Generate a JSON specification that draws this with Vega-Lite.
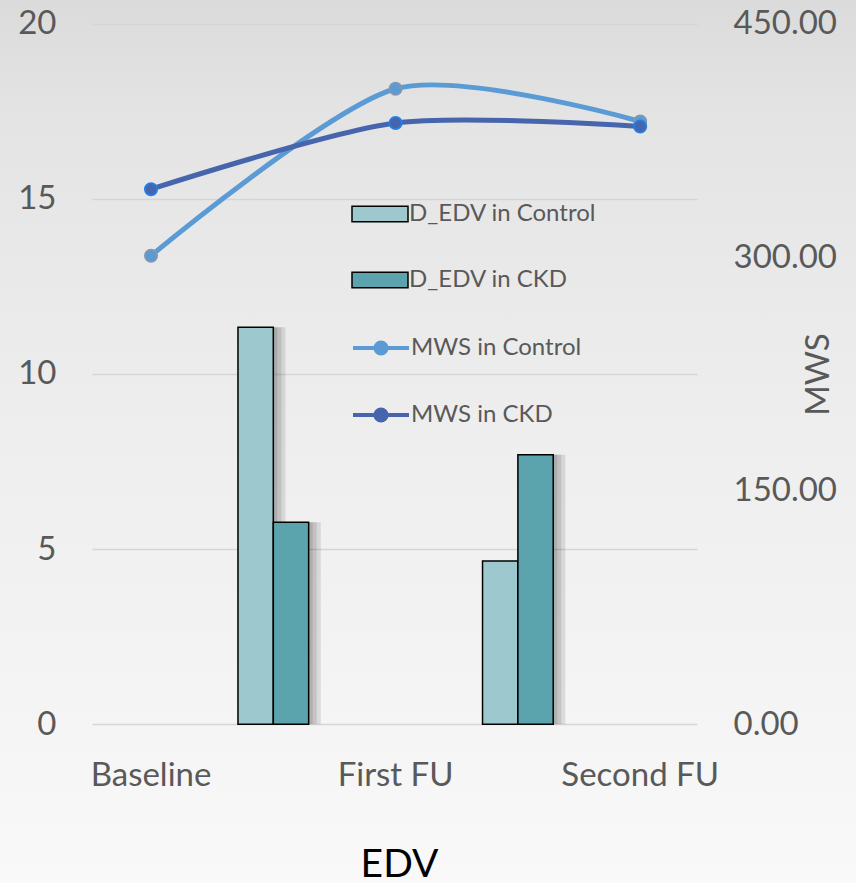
{
  "$schema": "https://vega.github.io/schema/vega-lite/v6.json",
  "autosize": "none",
  "width": 856,
  "height": 883,
  "padding": 0,
  "background": "#F0F0F0",
  "datasets": {
    "bars": [
      {"period": "Baseline–First FU", "series": "D_EDV in Control", "dedv": 11.33},
      {"period": "Baseline–First FU", "series": "D_EDV in CKD", "dedv": 5.77},
      {"period": "First FU–Second FU", "series": "D_EDV in Control", "dedv": 4.66},
      {"period": "First FU–Second FU", "series": "D_EDV in CKD", "dedv": 7.69}
    ],
    "mws": [
      {"period": "Baseline", "series": "MWS in Control", "mws": 301},
      {"period": "First FU", "series": "MWS in Control", "mws": 408.2},
      {"period": "Second FU", "series": "MWS in Control", "mws": 387.2},
      {"period": "Baseline", "series": "MWS in CKD", "mws": 343.7},
      {"period": "First FU", "series": "MWS in CKD", "mws": 386.2},
      {"period": "Second FU", "series": "MWS in CKD", "mws": 384}
    ]
  },
  "config": {
    "font": "Lato",
    "view": {
      "stroke": null,
      "fill": {
        "gradient": "linear", "x1": 0, "y1": 0, "x2": 0, "y2": 1,
        "stops": [
          {"offset": 0, "color": "#DBDBDB"},
          {"offset": 0.136, "color": "#E4E4E4"},
          {"offset": 0.34, "color": "#EAEAEA"},
          {"offset": 0.49, "color": "#EEEEEE"},
          {"offset": 0.79, "color": "#F4F4F4"},
          {"offset": 1, "color": "#F9F9F9"}
        ]
      }
    },
    "axis": {
      "labelFont": "Lato",
      "labelFontSize": 33,
      "labelColor": "#595959",
      "titleFont": "Lato",
      "titleFontWeight": "normal",
      "ticks": false,
      "domain": false,
      "grid": false
    },
    "legend": {
      "labelFont": "Lato",
      "labelFontSize": 24,
      "labelColor": "#595959",
      "labelOffset": 0,
      "padding": 0,
      "symbolSize": 3136,
      "labelLimit": 400
    }
  },
  "resolve": {"scale": {"y": "independent"}},
  "layer": [
    {
      "data": {"name": "bars"},
      "encoding": {
        "x": {
          "field": "period", "type": "nominal",
          "scale": {"domain": ["Baseline", "Baseline–First FU", "First FU", "First FU–Second FU", "Second FU"], "paddingInner": 0, "paddingOuter": 1.045, "align": 0.3675},
          "axis": {
            "values": ["Baseline", "First FU", "Second FU"],
            "offset": -159,
            "labelAngle": 0,
            "labelPadding": 61,
            "labelBaseline": "alphabetic",
            "title": "EDV",
            "titleFontSize": 39,
            "titleColor": "#000000",
            "titleX": 399,
            "titleY": 152,
            "titleBaseline": "alphabetic",
            "titleAlign": "center"
          }
        },
        "y": {
          "field": "dedv", "type": "quantitative",
          "scale": {"domain": [-4.529, 20.671], "nice": false, "zero": false},
          "axis": {
            "orient": "left",
            "offset": -92,
            "values": [0, 5, 10, 15, 20],
            "ticks": true,
            "tickSize": -605,
            "tickColor": "#D5D5D5",
            "tickWidth": 1.5,
            "labelPadding": 641,
            "title": null
          }
        }
      },
      "resolve": {"scale": {"xOffset": "independent"}},
      "layer": [
        {
          "mark": {"type": "bar", "fill": "#000000", "opacity": 0.1},
          "encoding": {"xOffset": {"field": "series", "type": "nominal", "scale": {"domain": ["D_EDV in Control", "D_EDV in CKD"], "paddingInner": 0, "paddingOuter": 0.73, "align": 0.578}}}
        },
        {
          "mark": {"type": "bar", "fill": "#000000", "opacity": 0.1},
          "encoding": {"xOffset": {"field": "series", "type": "nominal", "scale": {"domain": ["D_EDV in Control", "D_EDV in CKD"], "paddingInner": 0, "paddingOuter": 0.73, "align": 0.6566}}}
        },
        {
          "mark": {"type": "bar", "fill": "#000000", "opacity": 0.1},
          "encoding": {"xOffset": {"field": "series", "type": "nominal", "scale": {"domain": ["D_EDV in Control", "D_EDV in CKD"], "paddingInner": 0, "paddingOuter": 0.73, "align": 0.7348}}}
        },
        {
          "mark": {"type": "bar", "stroke": "#000000", "strokeWidth": 1.5},
          "encoding": {
            "xOffset": {"field": "series", "type": "nominal", "scale": {"domain": ["D_EDV in Control", "D_EDV in CKD"], "paddingInner": 0, "paddingOuter": 0.73, "align": 0.5}},
            "fill": {
              "field": "series", "type": "nominal",
              "scale": {"domain": ["D_EDV in Control", "D_EDV in CKD"], "range": ["#9DC8CE", "#5BA3AD"]},
              "legend": {
                "orient": "none",
                "legendX": 351,
                "legendY": 185,
                "rowPadding": 25,
                "title": null,
                "direction": "vertical",
                "symbolType": "M-1,-0.28H1V0.28H-1Z",
                "symbolStrokeColor": "#000000",
                "symbolStrokeWidth": 1.5
              }
            }
          }
        }
      ]
    },
    {
      "data": {"name": "mws"},
      "encoding": {
        "x": {
          "field": "period", "type": "nominal",
          "scale": {"domain": ["Baseline", "Baseline–First FU", "First FU", "First FU–Second FU", "Second FU"], "paddingInner": 0, "paddingOuter": 1.045, "align": 0.3675}
        },
        "y": {
          "field": "mws", "type": "quantitative",
          "scale": {"domain": [-101.93, 465.22], "nice": false, "zero": false},
          "axis": {
            "orient": "right",
            "offset": -159,
            "values": [0, 150, 300, 450],
            "format": ".2f",
            "labelPadding": 36,
            "title": "MWS",
            "titleFontSize": 33,
            "titleColor": "#595959",
            "titleAngle": 270,
            "titleX": 131,
            "titleY": 374,
            "titleAlign": "center",
            "titleBaseline": "alphabetic"
          }
        }
      },
      "layer": [
        {
          "mark": {"type": "line", "interpolate": "cardinal", "tension": 0.2, "strokeWidth": 5, "strokeCap": "round"},
          "encoding": {
            "stroke": {
              "field": "series", "type": "nominal",
              "scale": {"domain": ["MWS in Control", "MWS in CKD"], "range": ["#5B9BD5", "#4665AD"]},
              "legend": {
                "orient": "none",
                "legendX": 351,
                "legendY": 318,
                "rowPadding": 23,
                "title": null,
                "direction": "vertical",
                "symbolType": "M-1,0H1M0.2,0A0.2,0.2,0,1,1,-0.2,0A0.2,0.2,0,1,1,0.2,0",
                "symbolStrokeWidth": 4,
                "encode": {"symbols": {"update": {"fill": {"scale": "stroke", "field": "value"}}}}
              }
            }
          }
        },
        {
          "transform": [{"filter": "datum.series === 'MWS in Control'"}],
          "mark": {"type": "point", "filled": true, "fill": "#5B9BD5", "stroke": "#8497B0", "strokeWidth": 1.8, "size": 150, "opacity": 1}
        },
        {
          "transform": [{"filter": "datum.series === 'MWS in CKD'"}],
          "mark": {"type": "point", "filled": true, "fill": "#4665AD", "stroke": "#1F80E8", "strokeWidth": 1.8, "size": 150, "opacity": 1}
        }
      ]
    }
  ]
}
